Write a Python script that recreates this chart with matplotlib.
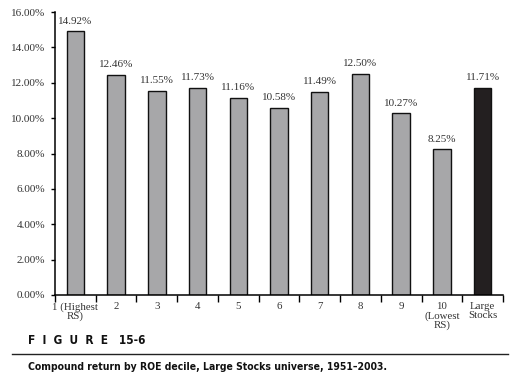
import matplotlib
matplotlib.use("Agg")
import matplotlib.pyplot as plt
from matplotlib.lines import Line2D

categories = ["1 (Highest\nRS)", "2", "3", "4", "5", "6", "7", "8", "9",
              "10\n(Lowest\nRS)", "Large\nStocks"]
values = [14.92, 12.46, 11.55, 11.73, 11.16, 10.58, 11.49, 12.50, 10.27, 8.25, 11.71]
value_labels = ["14.92%", "12.46%", "11.55%", "11.73%", "11.16%", "10.58%",
                "11.49%", "12.50%", "10.27%", "8.25%", "11.71%"]
yticks = [0, 2, 4, 6, 8, 10, 12, 14, 16]
ytick_labels = ["0.00%", "2.00%", "4.00%", "6.00%", "8.00%", "10.00%",
                "12.00%", "14.00%", "16.00%"]
fig_label = "F  I  G  U  R  E   15-6"
caption = "Compound return by ROE decile, Large Stocks universe, 1951\u20132003."

serif = ["Liberation Serif", "DejaVu Serif"]

fig = plt.figure(figsize=(5.25, 3.86), dpi=100)
ax = fig.add_axes([0.1048, 0.2358, 0.8532, 0.733])

colors = ["#a7a7a9"] * (len(values) - 1) + ["#231f20"]
x = list(range(len(values)))
ax.bar(x, values, width=0.43, color=colors, edgecolor="#111111", linewidth=1.0)
for xi, v, lab in zip(x, values, value_labels):
    ax.annotate(lab, (xi, v), xytext=(0, 4), textcoords="offset points",
                ha="center", va="bottom", fontsize=8, family=serif, color="#333333")

ax.set_xlim(-0.5, len(values) - 0.5)
ax.set_ylim(0, 16)
ax.set_yticks(yticks)
ax.set_yticklabels(ytick_labels, family=serif, fontsize=8, color="#333333")
ax.set_xticks([i - 0.5 for i in range(len(values) + 1)])
ax.set_xticklabels([])
ax.set_xticks(x, minor=True)
ax.set_xticklabels(categories, minor=True, family=serif, fontsize=7.8,
                   color="#333333", linespacing=1.0)
ax.tick_params(axis="x", which="major", direction="out", length=5, width=1)
ax.tick_params(axis="x", which="minor", length=0, pad=5)
ax.tick_params(axis="y", direction="out", length=3, width=1, pad=4)
for s in ["top", "right"]:
    ax.spines[s].set_visible(False)
for s in ["left", "bottom"]:
    ax.spines[s].set_linewidth(1.1)

fig.text(28 / 525, 1 - 340 / 386, fig_label, family="DejaVu Sans", stretch="condensed",
         weight="bold", fontsize=8.5, va="center", ha="left", color="#111111")
fig.add_artist(Line2D([12 / 525, 508 / 525], [1 - 354 / 386, 1 - 354 / 386],
                      color="#222222", linewidth=1.0, transform=fig.transFigure))
fig.text(28 / 525, 1 - 367 / 386, caption, family="DejaVu Sans", stretch="condensed",
         weight="bold", fontsize=7.5, va="center", ha="left", color="#111111")

fig.savefig("out.png", dpi=100)
